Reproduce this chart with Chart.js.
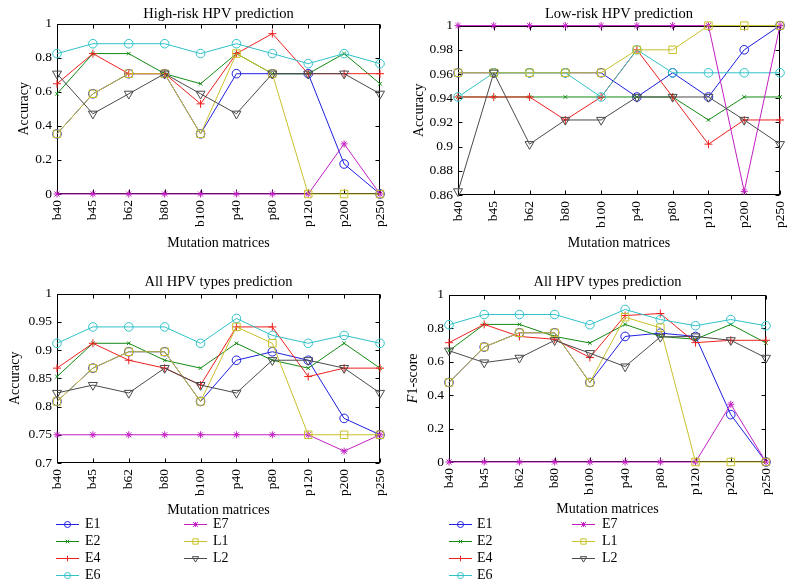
<!DOCTYPE html>
<html>
<head>
<meta charset="utf-8">
<script src="https://cdn.jsdelivr.net/npm/chart.js@4.4.0/dist/chart.umd.min.js"></script>
<style>
  html, body { margin: 0; padding: 0; background: #fff; }
  #wrap { position: relative; width: 795px; height: 587px; overflow: hidden; }
  .pane { position: absolute; }
</style>
</head>
<body>
<div id="wrap">
  <div class="pane" style="left:0;top:0"><canvas id="c1" width="395" height="270"></canvas></div>
  <div class="pane" style="left:395px;top:0"><canvas id="c2" width="400" height="270"></canvas></div>
  <div class="pane" style="left:0;top:270px"><canvas id="c3" width="395" height="317"></canvas></div>
  <div class="pane" style="left:395px;top:270px"><canvas id="c4" width="400" height="317"></canvas></div>
</div>
<script>
// categories and series names
const categories = ['b40', 'b45', 'b62', 'b80', 'b100', 'p40', 'p80', 'p120', 'p200', 'p250'];
const seriesNames = ['E1', 'E2', 'E4', 'E6', 'E7', 'L1', 'L2'];

// y tick labels
const yTicksHigh = [0, 0.2, 0.4, 0.6, 0.8, 1];
const yTicksLow = [0.86, 0.88, 0.9, 0.92, 0.94, 0.96, 0.98, 1];
const yTicksAllAcc = [0.7, 0.75, 0.8, 0.85, 0.9, 0.95, 1];
const yTicksAllF1 = [0, 0.2, 0.4, 0.6, 0.8, 1];

// High-risk HPV prediction (accuracy)
const hrE1 = [0.353, 0.588, 0.706, 0.706, 0.353, 0.706, 0.706, 0.706, 0.176, 0];
const hrE2 = [0.588, 0.824, 0.824, 0.706, 0.647, 0.824, 0.706, 0.706, 0.824, 0.647];
const hrE4 = [0.647, 0.824, 0.706, 0.706, 0.529, 0.824, 0.941, 0.706, 0.706, 0.706];
const hrE6 = [0.824, 0.882, 0.882, 0.882, 0.824, 0.882, 0.824, 0.765, 0.824, 0.765];
const hrE7 = [0, 0, 0, 0, 0, 0, 0, 0, 0.294, 0];
const hrL1 = [0.353, 0.588, 0.706, 0.706, 0.353, 0.824, 0.706, 0, 0, 0];
const hrL2 = [0.706, 0.471, 0.588, 0.706, 0.588, 0.471, 0.706, 0.706, 0.706, 0.588];

// Low-risk HPV prediction (accuracy)
const lrE1 = [0.961, 0.961, 0.961, 0.961, 0.961, 0.941, 0.961, 0.941, 0.980, 1];
const lrE2 = [0.941, 0.941, 0.941, 0.941, 0.941, 0.941, 0.941, 0.922, 0.941, 0.941];
const lrE4 = [0.941, 0.941, 0.941, 0.922, 0.941, 0.980, 0.941, 0.902, 0.922, 0.922];
const lrE6 = [0.941, 0.961, 0.961, 0.961, 0.941, 0.980, 0.961, 0.961, 0.961, 0.961];
const lrE7 = [1, 1, 1, 1, 1, 1, 1, 1, 0.863, 1];
const lrL1 = [0.961, 0.961, 0.961, 0.961, 0.961, 0.980, 0.980, 1, 1, 1];
const lrL2 = [0.863, 0.961, 0.902, 0.922, 0.922, 0.941, 0.941, 0.941, 0.922, 0.902];

// All HPV types prediction (accuracy)
const aaE1 = [0.809, 0.868, 0.897, 0.897, 0.809, 0.882, 0.897, 0.882, 0.779, 0.75];
const aaE2 = [0.853, 0.912, 0.912, 0.882, 0.868, 0.912, 0.882, 0.868, 0.912, 0.868];
const aaE4 = [0.868, 0.912, 0.882, 0.868, 0.838, 0.941, 0.941, 0.853, 0.868, 0.868];
const aaE6 = [0.912, 0.941, 0.941, 0.941, 0.912, 0.956, 0.926, 0.912, 0.926, 0.912];
const aaE7 = [0.75, 0.75, 0.75, 0.75, 0.75, 0.75, 0.75, 0.75, 0.721, 0.75];
const aaL1 = [0.809, 0.868, 0.897, 0.897, 0.809, 0.941, 0.912, 0.75, 0.75, 0.75];
const aaL2 = [0.824, 0.838, 0.824, 0.868, 0.838, 0.824, 0.882, 0.882, 0.868, 0.824];

// All HPV types prediction (F1-score)
const afE1 = [0.475, 0.687, 0.772, 0.772, 0.475, 0.75, 0.77, 0.75, 0.283, 0];
const afE2 = [0.665, 0.822, 0.822, 0.75, 0.711, 0.822, 0.75, 0.733, 0.822, 0.711];
const afE4 = [0.713, 0.822, 0.75, 0.733, 0.624, 0.875, 0.887, 0.713, 0.727, 0.727];
const afE6 = [0.82, 0.881, 0.881, 0.881, 0.82, 0.911, 0.851, 0.814, 0.851, 0.814];
const afE7 = [0, 0, 0, 0, 0, 0, 0, 0, 0.345, 0];
const afL1 = [0.475, 0.687, 0.772, 0.772, 0.475, 0.865, 0.802, 0, 0, 0];
const afL2 = [0.665, 0.594, 0.622, 0.727, 0.65, 0.57, 0.747, 0.75, 0.727, 0.622];

const serif = "'Liberation Serif', 'Times New Roman', serif";
Chart.defaults.font.family = serif;
Chart.defaults.color = '#000';

// marker look for each series
const seriesStyle = {
    E1: { color: '#1f1fe0', pointStyle: 'circle', radius: 4.3 },
    E2: { color: '#138a13', pointStyle: 'crossRot', radius: 2.5 },
    E4: { color: '#ee2020', pointStyle: 'cross', radius: 4 },
    E6: { color: '#2fc2c8', pointStyle: 'circle', radius: 4.3 },
    E7: { color: '#c21fc2', pointStyle: 'star', radius: 3.5 },
    L1: { color: '#c9c12c', pointStyle: 'rect', radius: 5.3 },
    L2: { color: '#4a4a4a', pointStyle: 'triangle', radius: 5.2, rotation: 180 }
};

const buildSets = (values) => seriesNames.map((name, i) => {
    const s = seriesStyle[name];
    return {
        label: name,
        data: values[i],
        borderColor: s.color,
        backgroundColor: 'rgba(0,0,0,0)',
        pointBorderColor: s.color,
        pointBackgroundColor: 'rgba(0,0,0,0)',
        pointStyle: s.pointStyle,
        pointRadius: s.radius,
        pointHoverRadius: s.radius,
        pointRotation: s.rotation || 0,
        pointBorderWidth: 1,
        borderWidth: 1,
        tension: 0,
        clip: false,
        // E1 at the bottom, L2 on top
        order: seriesNames.length - i
    };
});

// box round the plot with ticks pointing inwards
const framePlugin = {
    id: 'frame',
    beforeDatasetsDraw(chart) {
        const { ctx, chartArea: a, scales } = chart;
        const t = 4;
        ctx.save();
        ctx.strokeStyle = '#000';
        ctx.lineWidth = 1;
        const l = Math.round(a.left) + 0.5, r = Math.round(a.right) - 0.5;
        const tp = Math.round(a.top) + 0.5, b = Math.round(a.bottom) - 0.5;
        ctx.strokeRect(l, tp, r - l, b - tp);
        ctx.beginPath();
        scales.y.ticks.forEach((tk, i) => {
            const y = Math.round(scales.y.getPixelForTick(i)) + 0.5;
            ctx.moveTo(l, y); ctx.lineTo(l + t, y);
            ctx.moveTo(r, y); ctx.lineTo(r - t, y);
        });
        scales.x.ticks.forEach((tk, i) => {
            const x = Math.round(scales.x.getPixelForTick(i)) + 0.5;
            ctx.moveTo(x, b); ctx.lineTo(x, b - t);
            ctx.moveTo(x, tp); ctx.lineTo(x, tp + t);
        });
        ctx.stroke();
        ctx.restore();
    }
};

// small open marker for the legend samples
const drawMarker = (ctx, s, x, y) => {
    const r = s.radius * 0.7;
    ctx.beginPath();
    switch (s.pointStyle) {
        case 'circle':
            ctx.arc(x, y, r, 0, Math.PI * 2);
            break;
        case 'rect':
            ctx.rect(x - r * 0.72, y - r * 0.72, r * 1.44, r * 1.44);
            break;
        case 'triangle':
            ctx.moveTo(x - r * 0.87, y - r * 0.5);
            ctx.lineTo(x + r * 0.87, y - r * 0.5);
            ctx.lineTo(x, y + r);
            ctx.closePath();
            break;
        case 'cross':
            ctx.moveTo(x, y - r); ctx.lineTo(x, y + r);
            break;
        case 'crossRot':
            ctx.moveTo(x - r, y - r); ctx.lineTo(x + r, y + r);
            ctx.moveTo(x - r, y + r); ctx.lineTo(x + r, y - r);
            break;
        case 'star':
            ctx.moveTo(x, y - r); ctx.lineTo(x, y + r);
            ctx.moveTo(x - r, y - r); ctx.lineTo(x + r, y + r);
            ctx.moveTo(x - r, y + r); ctx.lineTo(x + r, y - r);
            break;
    }
    ctx.stroke();
};

// legend with line + marker samples, two columns
const makeLegend = (cols, y0, step) => ({
    id: 'lineLegend',
    afterDraw(chart) {
        const ctx = chart.ctx;
        ctx.save();
        ctx.font = '14px ' + serif;
        ctx.textBaseline = 'middle';
        ctx.lineWidth = 1;
        cols.forEach(col => {
            col.names.forEach((name, k) => {
                const s = seriesStyle[name];
                const y = Math.round(y0 + k * step) + 0.5;
                ctx.strokeStyle = s.color;
                ctx.beginPath();
                ctx.moveTo(col.x0, y); ctx.lineTo(col.x1, y);
                ctx.stroke();
                drawMarker(ctx, s, (col.x0 + col.x1) / 2, y);
                ctx.fillStyle = '#000';
                ctx.fillText(name, col.tx, y);
            });
        });
        ctx.restore();
    }
});

// y title with an italic F
const makeF1Title = (x) => ({
    id: 'f1Title',
    afterDraw(chart) {
        const { ctx, chartArea: a } = chart;
        const it = 'italic 14px ' + serif;
        const rm = '14px ' + serif;
        ctx.save();
        ctx.translate(x, (a.top + a.bottom) / 2);
        ctx.rotate(-Math.PI / 2);
        ctx.textBaseline = 'middle';
        ctx.fillStyle = '#000';
        ctx.font = it;
        const w1 = ctx.measureText('F').width;
        ctx.font = rm;
        const w2 = ctx.measureText('1-score').width;
        const sx = -(w1 + w2) / 2;
        ctx.font = it;
        ctx.fillText('F', sx, 0);
        ctx.font = rm;
        ctx.fillText('1-score', sx + w1, 0);
        ctx.restore();
    }
});

function makeChart(id, p) {
    const L = 14 * 1.2;
    const xH = p.xTitleY + L / 2 + 4 - p.area.bottom;
    const extra = p.plugins || [];
    return new Chart(document.getElementById(id), {
        type: 'line',
        data: { labels: categories, datasets: buildSets(p.values) },
        options: {
            responsive: false,
            animation: false,
            events: [],
            layout: {
                padding: { top: 0, left: 0, right: p.W - p.area.right, bottom: p.H - p.area.bottom - xH }
            },
            plugins: {
                legend: { display: false },
                tooltip: { enabled: false },
                title: {
                    display: true,
                    text: p.title,
                    fullSize: false,
                    color: '#000',
                    font: { size: 14.5, weight: 'normal' },
                    padding: { top: p.titleY - L / 2, bottom: p.area.top - p.titleY - L / 2 }
                }
            },
            scales: {
                x: {
                    type: 'category',
                    offset: false,
                    grid: { display: false, drawTicks: false },
                    border: { display: false },
                    ticks: { minRotation: 90, maxRotation: 90, autoSkip: false, padding: 6, font: { size: 13.5 } },
                    title: { display: true, text: 'Mutation matrices', font: { size: 14 }, padding: { top: 0, bottom: 4 } },
                    afterFit(s) {
                        s.height = xH;
                        // let the rotated end labels hang over the margins
                        s.paddingLeft = 0;
                        s.paddingRight = 0;
                    }
                },
                y: {
                    min: p.yTicks[0],
                    max: p.yTicks[p.yTicks.length - 1],
                    grid: { display: false, drawTicks: false },
                    border: { display: false },
                    afterBuildTicks(s) { s.ticks = p.yTicks.map(v => ({ value: v })); },
                    ticks: { padding: 5, font: { size: 13.5 }, callback: (v) => String(v) },
                    title: {
                        display: !!p.yTitle,
                        text: p.yTitle || '',
                        font: { size: 14 },
                        padding: { top: p.yTitleX - L / 2, bottom: 0 }
                    },
                    afterFit(s) {
                        s.width = p.area.left;
                        s.paddingTop = 0;
                        s.paddingBottom = 0;
                    }
                }
            }
        },
        plugins: [framePlugin, ...extra]
    });
}

makeChart('c1', {
    W: 395, H: 270, area: { left: 57, right: 380, top: 23, bottom: 194 },
    title: 'High-risk HPV prediction', titleY: 14, xTitleY: 243, yTitle: 'Accuracy', yTitleX: 24,
    yTicks: yTicksHigh, values: [hrE1, hrE2, hrE4, hrE6, hrE7, hrL1, hrL2]
});

makeChart('c2', {
    W: 400, H: 270, area: { left: 63, right: 385, top: 25, bottom: 195 },
    title: 'Low-risk HPV prediction', titleY: 14, xTitleY: 243, yTitle: 'Accuracy', yTitleX: 24,
    yTicks: yTicksLow, values: [lrE1, lrE2, lrE4, lrE6, lrE7, lrL1, lrL2]
});

makeChart('c3', {
    W: 395, H: 317, area: { left: 57, right: 380, top: 23, bottom: 193 },
    title: 'All HPV types prediction', titleY: 12, xTitleY: 240, yTitle: 'Accuracy', yTitleX: 15,
    yTicks: yTicksAllAcc, values: [aaE1, aaE2, aaE4, aaE6, aaE7, aaL1, aaL2],
    plugins: [makeLegend([
        { x0: 56, x1: 79, tx: 85, names: ['E1', 'E2', 'E4', 'E6'] },
        { x0: 184, x1: 207, tx: 213, names: ['E7', 'L1', 'L2'] }
    ], 253.5, 17.2)]
});

makeChart('c4', {
    W: 400, H: 317, area: { left: 54, right: 371, top: 24, bottom: 192 },
    title: 'All HPV types prediction', titleY: 12, xTitleY: 239, yTitle: null, yTitleX: 18,
    yTicks: yTicksAllF1, values: [afE1, afE2, afE4, afE6, afE7, afL1, afL2],
    plugins: [makeF1Title(18), makeLegend([
        { x0: 54, x1: 77, tx: 82, names: ['E1', 'E2', 'E4', 'E6'] },
        { x0: 177, x1: 200, tx: 207, names: ['E7', 'L1', 'L2'] }
    ], 253.5, 17.2)]
});
</script>
</body>
</html>
